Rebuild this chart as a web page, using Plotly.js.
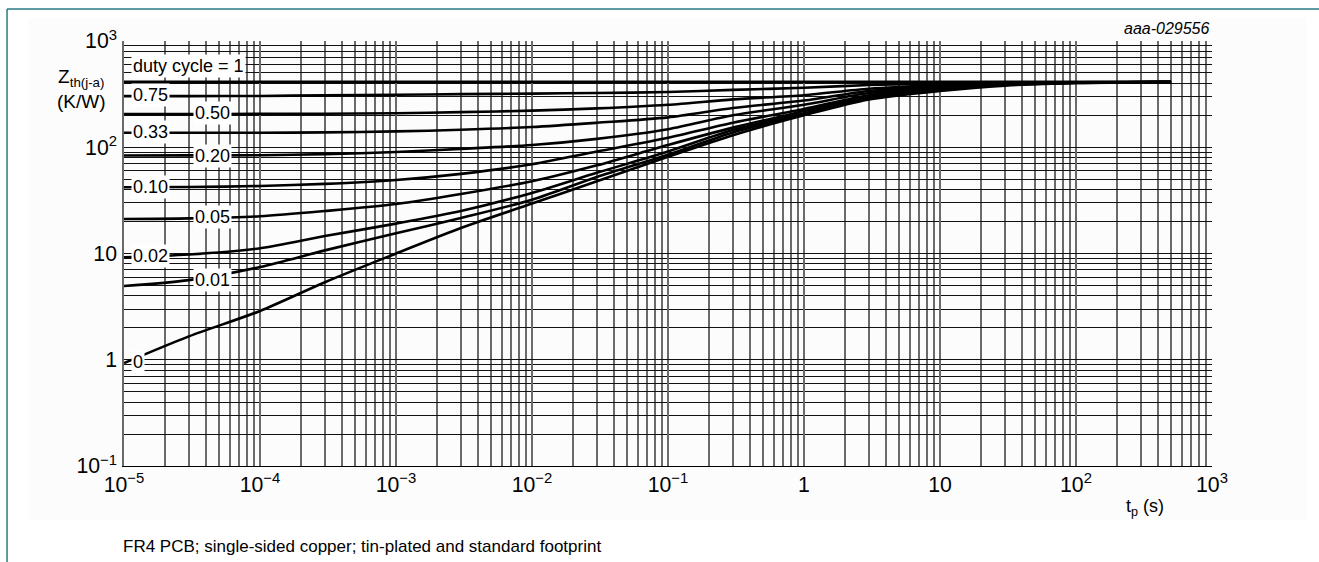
<!DOCTYPE html>
<html><head><meta charset="utf-8">
<script src="https://cdn.plot.ly/plotly-3.0.1.min.js"></script>
<style>html,body{margin:0;padding:0;background:#fff}#chart{width:1319px;height:562px}</style>
</head><body><div id="chart"></div>
<script>
// pulse duration t_p (s)
const tp = [1e-5, 3e-5, 1e-4, 3e-4, 1e-3, 3e-3, 1e-2, 3e-2, 0.1, 0.3, 1, 3, 10, 30, 100, 500];
// Zth(j-a) (K/W) for each duty cycle
const zthDuty100 = [412, 412, 412, 412, 412, 412, 412, 412, 412, 412, 412, 412, 412, 412, 412, 412];
const zthDuty075 = [303, 303, 304, 308, 312, 316, 320, 324, 331, 347, 363, 385, 398, 406, 409, 410];
const zthDuty050 = [205, 205, 206, 207, 209, 214, 221, 232, 251, 282, 309, 355, 385, 403, 408, 410];
const zthDuty033 = [137, 137, 137, 138, 141, 146, 155, 170, 191, 234, 275, 339, 376, 398, 407, 410];
const zthDuty020 = [83.6, 83.8, 84.1, 86.1, 90.2, 96.6, 105, 120, 148, 200, 251, 324, 367, 398, 407, 410];
const zthDuty010 = [42.0, 42.2, 43.2, 45.2, 49.2, 56.2, 69.2, 91.2, 123, 170, 229, 309, 359, 394, 406, 410];
const zthDuty005 = [21.1, 21.4, 22.4, 25.1, 29.2, 36.3, 47.9, 67.6, 105, 153, 219, 302, 355, 389, 406, 410];
const zthDuty002 = [9.23, 9.77, 11.2, 14.6, 19.1, 25.1, 37.2, 57.5, 91.2, 145, 209, 295, 351, 389, 405, 410];
const zthDuty001 = [4.95, 5.62, 7.46, 10.7, 15.5, 21.6, 32.1, 52.5, 85.1, 138, 204, 288, 347, 385, 403, 410];
const zthDuty000 = [0.93, 1.66, 2.88, 5.37, 10.0, 17.4, 29.5, 47.9, 81.3, 130, 200, 282, 339, 380, 403, 410];

const seriesValues = [zthDuty100, zthDuty075, zthDuty050, zthDuty033, zthDuty020, zthDuty010, zthDuty005, zthDuty002, zthDuty001, zthDuty000];
const seriesLabels = ['duty cycle = 1', '0.75', '0.50', '0.33', '0.20', '0.10', '0.05', '0.02', '0.01', '0'];

const FONT = 'Liberation Sans, Arial, Helvetica, sans-serif';

const traces = seriesValues.map((vals, i) => ({
  x: tp, y: vals, type: 'scatter', mode: 'lines', name: seriesLabels[i],
  line: {color: '#000', width: 2.6, shape: 'spline', smoothing: 0.8},
  hoverinfo: 'skip', showlegend: false
}));

// label placement (left edge, alternating columns)
const labelLogX = [-4.95, -4.95, -4.49, -4.95, -4.49, -4.95, -4.49, -4.95, -4.49, -4.95];
const labelLogY = [2.761, 2.488, 2.318, 2.139, 1.922, 1.628, 1.345, 0.98, 0.754, -0.02];

const annotations = seriesLabels.map((t, i) => ({
  text: t, x: labelLogX[i], y: labelLogY[i], xref: 'x', yref: 'y',
  xanchor: 'left', yanchor: 'middle', showarrow: false,
  bgcolor: '#fff', borderpad: 1,
  font: {family: FONT, size: 18, color: '#000'}
}));
annotations.push(
  {text: 'Z<sub>th(j-a)</sub><br>(K/W)', xref: 'paper', yref: 'paper', x: -0.0395, y: 0.887,
   xanchor: 'center', yanchor: 'middle', showarrow: false, align: 'center',
   font: {family: FONT, size: 19, color: '#000'}},
  {text: 't<sub>p</sub> (s)', xref: 'paper', yref: 'paper', x: 0.938, y: -0.097,
   xanchor: 'center', yanchor: 'middle', showarrow: false,
   font: {family: FONT, size: 18, color: '#000'}},
  {text: '<i>aaa-029556</i>', xref: 'paper', yref: 'paper', x: 1.0, y: 1.03,
   xanchor: 'right', yanchor: 'middle', showarrow: false,
   font: {family: FONT, size: 16, color: '#000'}},
  {text: 'FR4 PCB; single-sided copper; tin-plated and standard footprint', xref: 'paper', yref: 'paper',
   x: -0.003, y: -0.189, xanchor: 'left', yanchor: 'middle', showarrow: false,
   font: {family: FONT, size: 17, color: '#000'}}
);

const gridV = '#6a6a6a', gridH = '#111';
const layout = {
  width: 1319, height: 562,
  margin: {l: 124, r: 107, t: 41, b: 96},
  paper_bgcolor: '#fff', plot_bgcolor: '#fff',
  font: {family: FONT, size: 17, color: '#000'},
  xaxis: {
    type: 'log', range: [-5, 3], tickmode: 'linear', tick0: 0, dtick: 1,
    exponentformat: 'power', showgrid: true, gridcolor: gridV, gridwidth: 1.6,
    minor: {dtick: 'D1', showgrid: true, gridcolor: gridV, gridwidth: 1.6, ticks: ''},
    showline: true, linecolor: '#000', linewidth: 1, mirror: false,
    ticks: '', tickfont: {family: FONT, size: 17}, zeroline: false, fixedrange: true
  },
  yaxis: {
    type: 'log', range: [-1, 3], tickmode: 'linear', tick0: 0, dtick: 1,
    exponentformat: 'power', showgrid: true, gridcolor: gridH, gridwidth: 1,
    minor: {dtick: 'D1', showgrid: true, gridcolor: gridH, gridwidth: 1, ticks: ''},
    showline: true, linecolor: gridV, linewidth: 1.6, mirror: false,
    ticks: '', ticklabelstandoff: 2, tickfont: {family: FONT, size: 17}, zeroline: false, fixedrange: true
  },
  shapes: [
    {type: 'rect', xref: 'paper', yref: 'paper', x0: -0.0882, x1: 1.0864, y0: -0.127, y1: 1.054,
     fillcolor: '#fcfcfc', line: {width: 0}, layer: 'below'},
    {type: 'line', xref: 'paper', yref: 'paper', x0: -0.1075, x1: 1.1, y0: 1.0753, y1: 1.0753,
     line: {color: '#2b7a82', width: 1.5}},
    {type: 'line', xref: 'paper', yref: 'paper', x0: -0.1075, x1: -0.1075, y0: -0.23, y1: 1.0753,
     line: {color: '#2b7a82', width: 1.5}}
  ],
  annotations: annotations,
  showlegend: false
};

Plotly.newPlot('chart', traces, layout, {displayModeBar: false, staticPlot: true});
</script>
</body></html>
